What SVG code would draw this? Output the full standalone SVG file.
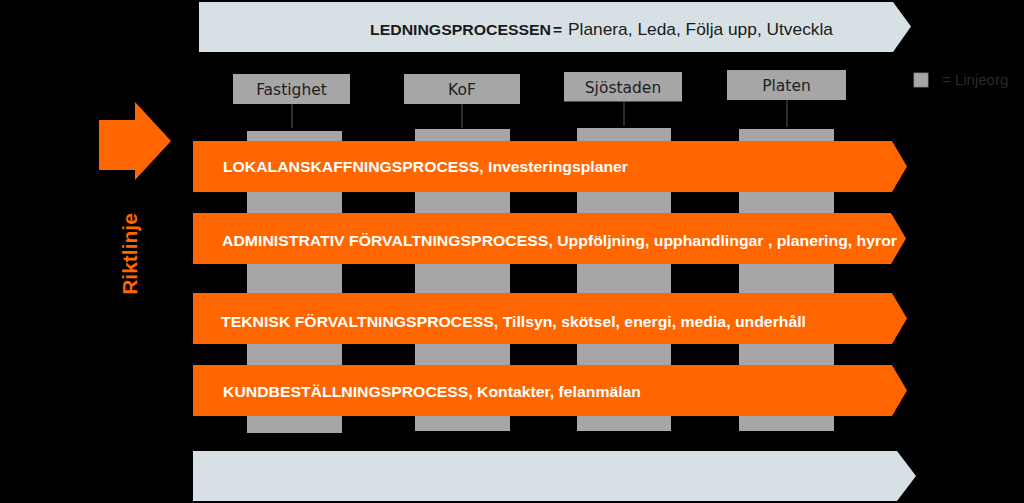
<svg xmlns="http://www.w3.org/2000/svg" width="1024" height="503" viewBox="0 0 1024 503">
<defs>
<style>
.bg{fill:#000}
.lead{fill:#d7e1e5}
.proc{fill:#ff6600}
.org{fill:#a6a6a6}
.col{fill:#a6a6a6}
.conn{stroke:#4a4a4a;stroke-width:1.2;fill:none}
.t{font-family:"Liberation Sans",Arial,sans-serif}
.pt{font-family:"Liberation Sans",Arial,sans-serif;font-weight:bold;font-size:15.5px;fill:#ffffff}
.nt{font-family:"DejaVu Sans",Verdana,sans-serif;font-size:15.5px;fill:#1e1e1e;text-anchor:middle}
</style>
</defs>
<rect class="bg" x="0" y="0" width="1024" height="503"/>

<g id="ledningsprocessen">
<polygon class="lead" points="199,2 893,2 911,26.5 893,52 199,52"/>
<text class="t" x="370" y="34.5" font-size="15.5" font-weight="bold" fill="#1a1a1a" textLength="181" lengthAdjust="spacingAndGlyphs">LEDNINGSPROCESSEN</text>
<text class="t" x="553" y="34.5" font-size="15.5" font-weight="bold" fill="#1a1a1a">=</text>
<text class="t" x="568" y="34.5" font-size="17" fill="#1a1a1a" textLength="265" lengthAdjust="spacingAndGlyphs">Planera, Leda, Följa upp, Utveckla</text>
</g>

<g id="legend">
<rect x="914" y="73" width="14" height="14" fill="#a6a6a6" stroke="#8c8c8c" stroke-width="0.8"/>
<text class="t" x="942" y="85" font-size="15" fill="#2a2a2a">= Linjeorg</text>
</g>

<g id="riktlinje">
<polygon class="proc" points="99,120 135,120 135,102 171,141 135,180 135,170 99,170"/>
<text class="t" transform="translate(137,254) rotate(-90)" text-anchor="middle" font-size="21" font-weight="bold" fill="#ff6600">Riktlinje</text>
</g>

<g id="linjeorg-columns">
<rect class="col" x="247" y="131" width="95" height="302"/>
<rect class="col" x="415" y="129" width="95" height="302"/>
<rect class="col" x="577" y="128" width="94" height="303"/>
<rect class="col" x="739" y="129" width="95" height="302"/>
</g>

<g id="connectors">
<line class="conn" x1="292" y1="104" x2="292" y2="128"/>
<line class="conn" x1="462" y1="104" x2="462" y2="128"/>
<line class="conn" x1="624" y1="102" x2="624" y2="126"/>
<line class="conn" x1="787" y1="100" x2="787" y2="127"/>
</g>

<g id="node-fastighet">
<rect class="org" x="233" y="74" width="117" height="30"/>
<text class="nt" x="291.5" y="95">Fastighet</text>
</g>
<g id="node-kof">
<rect class="org" x="404" y="74" width="116" height="30"/>
<text class="nt" x="462" y="95">KoF</text>
</g>
<g id="node-sjostaden">
<rect class="org" x="564" y="72" width="118" height="29.5"/>
<text class="nt" x="623" y="93">Sjöstaden</text>
</g>
<g id="node-platen">
<rect class="org" x="727" y="70" width="119" height="30"/>
<text class="nt" x="786.5" y="91">Platen</text>
</g>

<g id="proc-lokalanskaffning">
<polygon class="proc" points="193,141 892,141 907,166.5 892,192 193,192"/>
<text class="pt" x="223" y="172" textLength="405" lengthAdjust="spacingAndGlyphs">LOKALANSKAFFNINGSPROCESS, Investeringsplaner</text>
</g>
<g id="proc-administrativ">
<polygon class="proc" points="193,213 891,213 906,238.5 891,264 193,264"/>
<text class="pt" x="222" y="245.5" textLength="675" lengthAdjust="spacingAndGlyphs">ADMINISTRATIV FÖRVALTNINGSPROCESS, Uppföljning, upphandlingar , planering, hyror</text>
</g>
<g id="proc-teknisk">
<polygon class="proc" points="193,293 892,293 907,318.5 892,344 193,344"/>
<text class="pt" x="221" y="327" textLength="585" lengthAdjust="spacingAndGlyphs">TEKNISK FÖRVALTNINGSPROCESS, Tillsyn, skötsel, energi, media, underhåll</text>
</g>
<g id="proc-kundbestallning">
<polygon class="proc" points="193,365 892,365 907,390.5 892,416 193,416"/>
<text class="pt" x="223" y="397" textLength="418" lengthAdjust="spacingAndGlyphs">KUNDBESTÄLLNINGSPROCESS, Kontakter, felanmälan</text>
</g>

<g id="bottom-process">
<polygon class="lead" points="193,451 897,451 916,476 897,501 193,501"/>
</g>
</svg>
